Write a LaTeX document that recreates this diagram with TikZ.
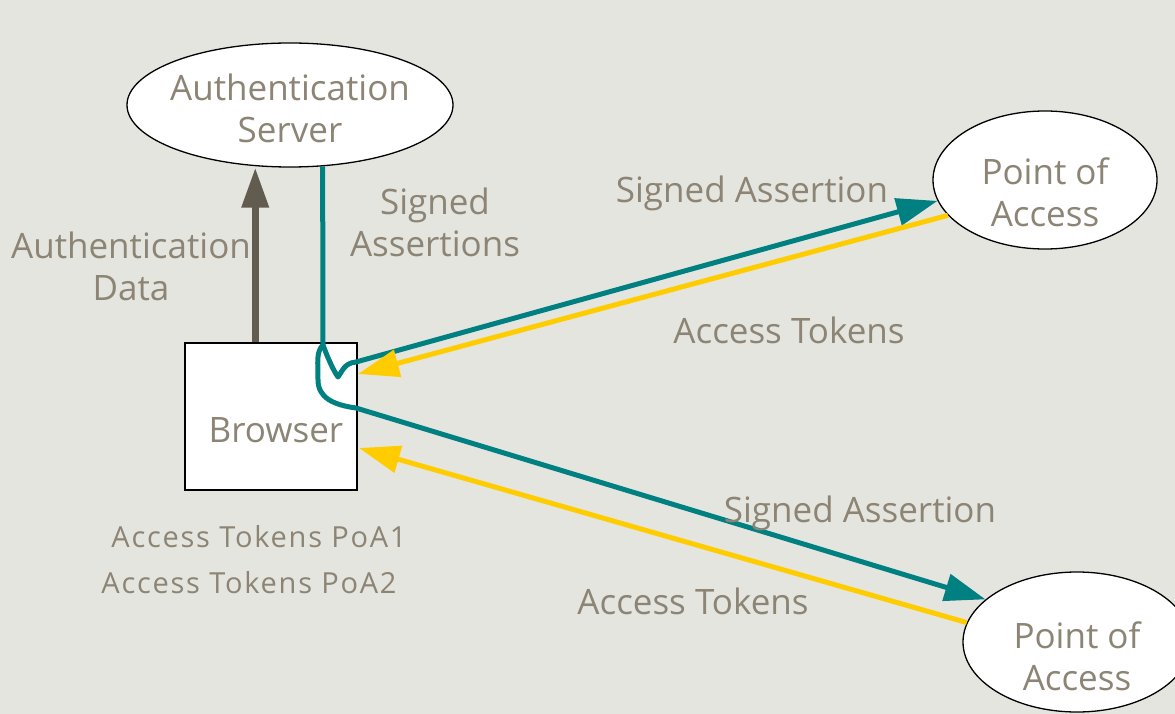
\documentclass[tikz,border=0pt]{standalone}
\usepackage{fontspec}
\setmainfont{Open Sans}
\newfontfamily\spacedfont[LetterSpace=6]{Open Sans}
\usetikzlibrary{arrows.meta,shapes.geometric,calc}
\definecolor{bgcol}{HTML}{E5E5E0}
\definecolor{txtcol}{HTML}{8C8474}
\definecolor{tealc}{HTML}{008080}
\definecolor{yelc}{HTML}{FFCC00}
\definecolor{grayc}{HTML}{625B50}
\tikzset{
  ell/.style={ellipse, draw=black, fill=white, line width=1.3pt, inner sep=0pt},
  boxnode/.style={rectangle, draw=black, fill=white, line width=1.5pt, inner sep=0pt,
                  minimum width=172pt, minimum height=147pt},
  big/.style={text=txtcol, font=\fontsize{35}{42}\selectfont, align=center, inner sep=0pt},
  small/.style={text=txtcol, font=\spacedfont\fontsize{29}{34}\selectfont, inner sep=0pt},
  tip/.style={-{Triangle[length=41pt,width=27pt]}},
  tealline/.style={draw=tealc, line width=5pt, line join=round},
  yelline/.style={draw=yelc, line width=5pt, line join=round},
  grayline/.style={draw=grayc, line width=7pt},
}
\begin{document}
\begin{tikzpicture}[x=1pt,y=-1pt]
  \useasboundingbox (0,0) rectangle (1175,714);
  \fill[bgcol] (0,0) rectangle (1175,714);

  % servers and access points
  \node[ell, minimum width=326pt, minimum height=124pt,
        label={[big,yshift=-3pt]center:Authentication\\Server}] (auth) at (290,105) {};
  \node[ell, minimum width=224pt, minimum height=138pt,
        label={[big,yshift=-12pt]center:Point of\\Access}] (poa1) at (1045,180) {};
  \node[ell, minimum width=228pt, minimum height=140pt,
        label={[big,yshift=-14pt]center:Point of\\Access}] (poa2) at (1077,642) {};

  % browser
  \node[boxnode, label={[big,xshift=5pt,yshift=-14pt]center:Browser}] (browser) at (271,416.5) {};

  % authentication data going up
  \draw[grayline, -{Triangle[length=40pt,width=26pt]}]
    ([xshift=71pt]browser.north west) -- ([xshift=71pt]browser.north west |- auth.south);

  % signed assertions coming down and splitting to both access points
  \coordinate (split) at (323,345);
  \path[tealline, tip] (auth.-62) -- (split)
    .. controls (327,356) and (333,370) .. (338,377)
    .. controls (342,372) and (344,363) .. (356,362)
    -- (poa1.191);
  \path[tealline, tip] (split)
    .. controls (316,352) and (318,362) .. (318,380)
    .. controls (318,398) and (334,405) .. (356,408)
    -- (poa2.155);

  % access tokens returned to the browser
  \path[yelline, tip] (poa1.200) -- (358,374);
  \path[yelline, tip] (poa2.170) -- (359,448);

  % labels
  \node[big] at (131,266) {Authentication\\Data};
  \node[big] at (435,222) {Signed\\Assertions};
  \node[big] at (752,193) {Signed Assertion};
  \node[big] at (789,330) {Access Tokens};
  \node[big] at (860,513) {Signed Assertion};
  \node[big] at (693,601) {Access Tokens};
  \node[small] at (259,537) {Access Tokens PoA1};
  \node[small] at (249,583) {Access Tokens PoA2};
\end{tikzpicture}
\end{document}
